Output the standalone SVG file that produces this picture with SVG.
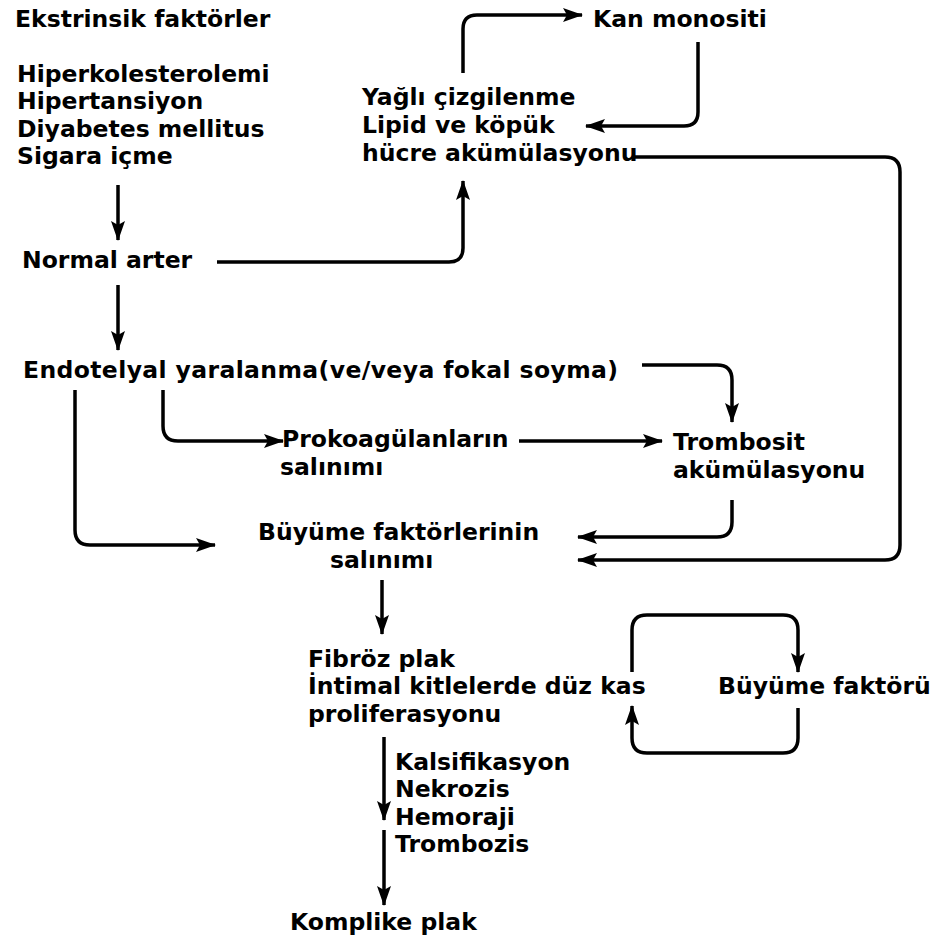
<svg xmlns="http://www.w3.org/2000/svg" width="932" height="942" viewBox="0 0 932 942">
<defs>
<style>
text{font-family:"DejaVu Sans","Liberation Sans",sans-serif;font-weight:bold;font-size:23.5px;fill:#000}
.c{fill:none;stroke:#000;stroke-width:3.5;stroke-linecap:butt;stroke-linejoin:round}
</style>
<marker id="ah" viewBox="0 0 20 14" refX="19" refY="7" markerWidth="20" markerHeight="14" markerUnits="userSpaceOnUse" orient="auto">
<path d="M0,0 L20,7 L0,14 L4,7 Z" fill="#000"/>
</marker>
</defs>
<rect width="932" height="942" fill="#fff"/>
<g id="ekstrinsik"><text x="15" y="27">Ekstrinsik faktörler</text>
<text x="17" y="82">Hiperkolesterolemi</text><text x="17" y="109">Hipertansiyon</text><text x="17" y="137">Diyabetes mellitus</text><text x="17" y="164">Sigara içme</text></g>
<g id="normal"><text x="22" y="268">Normal arter</text></g>
<g id="endotel"><text x="23" y="378" textLength="595" lengthAdjust="spacing">Endotelyal yaralanma(ve/veya fokal soyma)</text></g>
<g id="yagli"><text x="362" y="105">Yağlı çizgilenme</text><text x="362" y="133">Lipid ve köpük</text><text x="362" y="161">hücre akümülasyonu</text></g>
<g id="kan"><text x="593" y="27">Kan monositi</text></g>
<g id="prokoag"><text x="282" y="447">Prokoagülanların</text><text x="280" y="475">salınımı</text></g>
<g id="trombosit"><text x="673" y="450">Trombosit</text><text x="673" y="478">akümülasyonu</text></g>
<g id="buyume"><text x="258" y="540">Büyüme faktörlerinin</text><text x="330" y="568">salınımı</text></g>
<g id="fibroz"><text x="308" y="667">Fibröz plak</text><text x="308" y="694">İntimal kitlelerde düz kas</text><text x="308" y="722">proliferasyonu</text></g>
<g id="bfaktor"><text x="718" y="694">Büyüme faktörü</text></g>
<g id="komplikasyon"><text x="395" y="770">Kalsifikasyon</text><text x="395" y="797">Nekrozis</text><text x="395" y="825">Hemoraji</text><text x="395" y="852">Trombozis</text></g>
<g id="komplike"><text x="290" y="930">Komplike plak</text></g>
<g id="connectors">
<path class="c" d="M118,185 V240" marker-end="url(#ah)"/>
<path class="c" d="M118,285 V350" marker-end="url(#ah)"/>
<path class="c" d="M217,262 H449 Q463,262 463,248 V181" marker-end="url(#ah)"/>
<path class="c" d="M463,73 V29 Q463,15 477,15 H582" marker-end="url(#ah)"/>
<path class="c" d="M698,42 V112 Q698,126 684,126 H586" marker-end="url(#ah)"/>
<path class="c" d="M632,157 H885 Q900,157 900,172 V545 Q900,560 885,560 H578" marker-end="url(#ah)"/>
<path class="c" d="M642,365 H717 Q732,365 732,380 V422" marker-end="url(#ah)"/>
<path class="c" d="M519,441 H662" marker-end="url(#ah)"/>
<path class="c" d="M163,390 V426 Q163,441 178,441 H283" marker-end="url(#ah)"/>
<path class="c" d="M75,390 V530 Q75,545 90,545 H215" marker-end="url(#ah)"/>
<path class="c" d="M732,500 V522 Q732,537 717,537 H578" marker-end="url(#ah)"/>
<path class="c" d="M382,580 V634" marker-end="url(#ah)"/>
<path class="c" d="M632,672 V630 Q632,615 647,615 H783 Q798,615 798,630 V672" marker-end="url(#ah)"/>
<path class="c" d="M798,708 V738 Q798,753 783,753 H647 Q632,753 632,738 V706" marker-end="url(#ah)"/>
<path class="c" d="M384,737 V820" marker-end="url(#ah)"/>
<path class="c" d="M384,830 V905" marker-end="url(#ah)"/>
</g>
</svg>
